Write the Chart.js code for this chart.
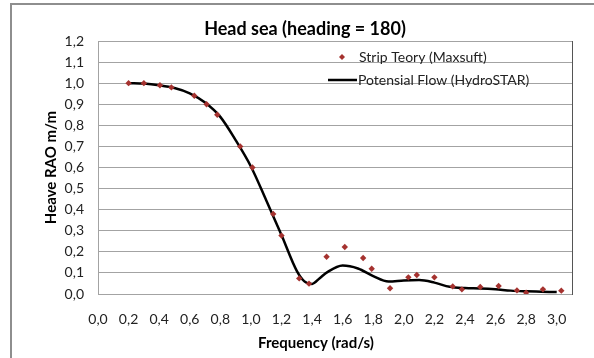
<!DOCTYPE html>
<html>
<head>
<meta charset="utf-8">
<script src="https://cdn.jsdelivr.net/npm/chart.js@4"></script>
<style>
  body { margin: 0; background: #fff; }
  #wrap { width: 594px; height: 358px; }
</style>
</head>
<body>
<div id="wrap"><canvas id="raoChart" width="594" height="358"></canvas></div>
<script>
// Strip theory points (Maxsurf)
const stripFreq = [0.2, 0.3, 0.405, 0.48, 0.63, 0.71, 0.78, 0.93, 1.01, 1.146, 1.2, 1.316, 1.38, 1.495, 1.614, 1.734, 1.79, 1.91, 2.03, 2.085, 2.2, 2.32, 2.38, 2.5, 2.62, 2.74, 2.8, 2.91, 3.03];
const stripRao = [1.0, 1.0, 0.99, 0.98, 0.94, 0.9, 0.85, 0.7, 0.6, 0.38, 0.277, 0.074, 0.049, 0.177, 0.223, 0.171, 0.12, 0.027, 0.079, 0.09, 0.079, 0.036, 0.022, 0.033, 0.038, 0.017, 0.006, 0.022, 0.016];

// Potential flow curve (HydroSTAR)
const flowFreq = [0.2, 0.3, 0.4, 0.5, 0.6, 0.7, 0.8, 0.9, 1.0, 1.1, 1.2, 1.3, 1.35, 1.4, 1.45, 1.5, 1.6, 1.7, 1.8, 1.9, 2.0, 2.1, 2.2, 2.3, 2.4, 2.5, 2.6, 2.7, 2.8, 2.9, 3.0];
const flowRao = [1.0, 0.998, 0.99, 0.977, 0.952, 0.908, 0.84, 0.73, 0.605, 0.445, 0.28, 0.11, 0.06, 0.048, 0.075, 0.104, 0.135, 0.121, 0.085, 0.059, 0.064, 0.066, 0.054, 0.034, 0.028, 0.026, 0.022, 0.016, 0.013, 0.011, 0.009];

const xTicks = [0, 0.2, 0.4, 0.6, 0.8, 1.0, 1.2, 1.4, 1.6, 1.8, 2.0, 2.2, 2.4, 2.6, 2.8, 3.0];
const yTicks = [0, 0.1, 0.2, 0.3, 0.4, 0.5, 0.6, 0.7, 0.8, 0.9, 1.0, 1.1, 1.2];

const titleText = "Head sea (heading = 180)";
const xTitle = "Frequency (rad/s)";
const yTitle = "Heave RAO m/m";

const FONT = "Lato, 'Open Sans', sans-serif";
const GRID = "#a3a3a3";
const MARKER = "#a5322f";

const comma = (v) => v.toFixed(1).replace(".", ",");

// frame, titles, plot border and in-plot legend
const decor = {
  id: "decor",
  beforeDraw(chart) {
    const c = chart.ctx;
    c.save();
    c.fillStyle = "#fff";
    c.fillRect(0, 0, chart.width, chart.height);
    c.strokeStyle = "#8e8e8e";
    c.lineWidth = 2;
    c.strokeRect(11, 4, 700, 500);
    c.restore();
  },
  beforeDatasetsDraw(chart) {
    const c = chart.ctx;
    const a = chart.chartArea;
    c.save();
    c.lineWidth = 1;
    c.strokeStyle = GRID;
    c.beginPath();
    c.moveTo(a.left + 0.5, a.top);
    c.lineTo(a.left + 0.5, a.bottom);
    c.stroke();
    c.strokeStyle = "#555";
    c.beginPath();
    c.moveTo(a.right + 0.5, a.top);
    c.lineTo(a.right + 0.5, a.bottom + 1);
    c.stroke();
    c.restore();
  },
  afterDraw(chart) {
    const c = chart.ctx;
    c.save();
    c.fillStyle = "#000";
    c.font = "bold 18px " + FONT;
    c.textAlign = "center";
    c.textBaseline = "alphabetic";
    c.fillText(titleText, 305, 35);

    c.font = "bold 15px " + FONT;
    c.textBaseline = "middle";
    c.fillText(xTitle, 316, 343);

    // legend
    const ds = chart.data.datasets;
    c.font = "14px " + FONT;
    c.textAlign = "left";
    c.fillStyle = "#222";
    c.fillText(ds[0].label, 359, 57);
    c.fillText(ds[1].label, 358, 80);
    c.fillStyle = MARKER;
    c.beginPath();
    c.moveTo(342, 54);
    c.lineTo(345, 57);
    c.lineTo(342, 60);
    c.lineTo(339, 57);
    c.closePath();
    c.fill();
    c.strokeStyle = "#000";
    c.lineWidth = 2.5;
    c.beginPath();
    c.moveTo(328, 80);
    c.lineTo(357, 80);
    c.stroke();
    c.restore();
  }
};

new Chart(document.getElementById("raoChart"), {
  type: "scatter",
  data: {
    datasets: [
      {
        label: "Strip Teory (Maxsuft)",
        data: stripFreq.map((f, i) => ({ x: f, y: stripRao[i] })),
        pointStyle: "rectRot",
        pointRadius: 3.2,
        backgroundColor: MARKER,
        borderColor: MARKER,
        borderWidth: 0,
        order: 0,
      },
      {
        label: "Potensial Flow (HydroSTAR)",
        type: "line",
        data: flowFreq.map((f, i) => ({ x: f, y: flowRao[i] })),
        borderColor: "#000",
        borderWidth: 2.5,
        pointRadius: 0,
        cubicInterpolationMode: "monotone",
        fill: false,
        order: 1,
      },
    ],
  },
  options: {
    responsive: false,
    animation: false,
    layout: { padding: { left: 42, top: 41, right: 22, bottom: 0 } },
    plugins: {
      legend: { display: false },
      tooltip: { enabled: false },
      title: { display: false },
    },
    scales: {
      x: {
        type: "linear",
        min: 0,
        max: 3.1,
        afterBuildTicks: (s) => { s.ticks = xTicks.map((v) => ({ value: v })); },
        afterFit: (s) => { s.height = 64; },
        grid: { display: false, drawTicks: false },
        border: { display: false },
        ticks: {
          padding: 17,
          color: "#222",
          font: { family: FONT, size: 14 },
          maxRotation: 0,
          autoSkip: false,
          callback: (v) => comma(v),
        },
        title: { display: false, text: xTitle },
      },
      y: {
        min: 0,
        max: 1.2,
        afterBuildTicks: (s) => { s.ticks = yTicks.map((v) => ({ value: v })); },
        afterFit: (s) => { s.width = 56; },
        grid: { color: GRID, lineWidth: 1, drawTicks: false },
        border: { display: false },
        ticks: {
          padding: 14,
          color: "#222",
          font: { family: FONT, size: 14 },
          callback: (v) => comma(v),
        },
        title: {
          display: true,
          text: yTitle,
          color: "#000",
          font: { family: FONT, size: 15, weight: "bold" },
          padding: 0,
        },
      },
    },
  },
  plugins: [decor],
});
</script>
</body>
</html>
